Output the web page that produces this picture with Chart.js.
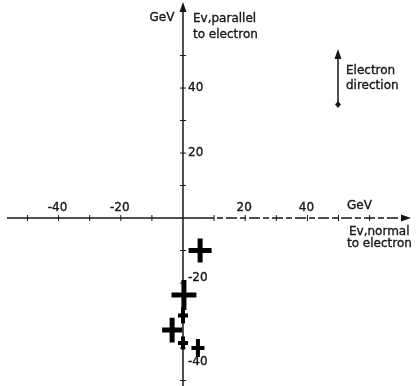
<!DOCTYPE html>
<html>
<head>
<meta charset="utf-8">
<script src="https://cdn.jsdelivr.net/npm/chart.js@4/dist/chart.umd.min.js"></script>
<style>
  html, body { margin: 0; padding: 0; background: #fff; }
  #wrap { width: 418px; height: 386px; }
</style>
</head>
<body>
<div id="wrap"><canvas id="chart"></canvas></div>
<script>
// event energies, GeV: normal and parallel to the electron
var eNormal = [5.5, 0.3, 0, -3.5, 0, 4.8];
var eParallel = [-10, -23.7, -30, -34.5, -38.5, -40];
// half sizes of the error crosses, GeV
var errNormal = [3.7, 4.0, 1.6, 3.2, 1.6, 2.1];
var errParallel = [3.7, 4.6, 2.5, 3.8, 2.0, 2.8];

var xTicks = [-50, -40, -30, -20, -10, 10, 20, 30, 40, 50, 60];
var yTicks = [-50, -40, -30, -20, -10, 10, 20, 30, 40, 50];
var xLabels = [-40, -20, 20, 40];
var yLabels = [40, 20, -20, -40];

var INK = '#161616';
var FONT = '12px "DejaVu Sans"';

var points = eNormal.map(function (x, i) { return { x: x, y: eParallel[i] }; });

function arrowHead(ctx, x, y, dir) {
  // dir: 'up' or 'right'
  ctx.beginPath();
  if (dir === 'up') {
    ctx.moveTo(x, y);
    ctx.lineTo(x - 3.5, y + 10);
    ctx.lineTo(x + 3.5, y + 10);
  } else {
    ctx.moveTo(x, y);
    ctx.lineTo(x - 10, y - 3.5);
    ctx.lineTo(x - 10, y + 3.5);
  }
  ctx.closePath();
  ctx.fill();
}

// lettering is a little heavier than a plain fill
function letter(ctx, txt, x, y) {
  ctx.fillText(txt, x, y);
  ctx.strokeText(txt, x, y);
}

var axesPlugin = {
  id: 'crossAxes',
  beforeDatasetsDraw(chart) {
    var ctx = chart.ctx;
    var xs = chart.scales.x, ys = chart.scales.y;
    var x0 = xs.getPixelForValue(0), y0 = ys.getPixelForValue(0);
    var w = chart.width;

    ctx.save();
    ctx.strokeStyle = INK;
    ctx.fillStyle = INK;
    ctx.lineWidth = 1.5;

    // horizontal axis, the right half is a bit broken up
    ctx.beginPath();
    ctx.moveTo(7, y0);
    ctx.lineTo(x0 + 20, y0);
    ctx.stroke();
    ctx.setLineDash([11, 3, 6, 3]);
    ctx.beginPath();
    ctx.moveTo(x0 + 20, y0);
    ctx.lineTo(w - 12, y0);
    ctx.stroke();
    ctx.setLineDash([]);
    arrowHead(ctx, w - 7, y0, 'right');

    // vertical axis
    ctx.beginPath();
    ctx.moveTo(x0, 10);
    ctx.lineTo(x0, chart.height);
    ctx.stroke();
    arrowHead(ctx, x0, 2, 'up');

    // tick marks
    ctx.lineWidth = 1;
    xTicks.forEach(function (v) {
      var px = xs.getPixelForValue(v);
      ctx.beginPath();
      ctx.moveTo(px, y0 - 3);
      ctx.lineTo(px, y0 + 3);
      ctx.stroke();
    });
    yTicks.forEach(function (v) {
      var py = ys.getPixelForValue(v);
      ctx.beginPath();
      ctx.moveTo(x0 - 3, py);
      ctx.lineTo(x0 + 3, py);
      ctx.stroke();
    });

    // tick labels
    ctx.font = FONT;
    ctx.lineWidth = 0.35;
    ctx.textBaseline = 'middle';
    ctx.textAlign = 'center';
    xLabels.forEach(function (v) {
      letter(ctx, String(v), xs.getPixelForValue(v) - 1, y0 - 10);
    });
    ctx.textAlign = 'left';
    yLabels.forEach(function (v) {
      // negative labels sit clear of the crosses
      var nudge = v === -40 ? 14 : (v < 0 ? -5 : 0);
      letter(ctx, String(v), x0 + 5, ys.getPixelForValue(v) + nudge);
    });

    // axis titles
    ctx.textAlign = 'center';
    letter(ctx, 'GeV', x0 - 21, 18);
    ctx.textAlign = 'left';
    letter(ctx, 'Ev,parallel', x0 + 10, 19);
    letter(ctx, 'to electron', x0 + 10, 35);
    letter(ctx, 'GeV', 347, y0 - 12);
    letter(ctx, 'Ev,normal', 349, y0 + 14);
    letter(ctx, 'to electron', 347, y0 + 26);

    // electron direction arrow
    ctx.lineWidth = 1.5;
    ctx.beginPath();
    ctx.moveTo(338, 56);
    ctx.lineTo(338, 104);
    ctx.stroke();
    arrowHead(ctx, 338, 49, 'up');
    ctx.beginPath();
    ctx.moveTo(338, 101);
    ctx.lineTo(341, 104.5);
    ctx.lineTo(338, 108);
    ctx.lineTo(335, 104.5);
    ctx.closePath();
    ctx.fill();
    ctx.lineWidth = 0.35;
    letter(ctx, 'Electron', 346, 71);
    letter(ctx, 'direction', 346, 86);
    ctx.restore();
  },
  afterDatasetsDraw(chart) {
    // error crosses around each event
    var ctx = chart.ctx;
    var xs = chart.scales.x, ys = chart.scales.y;
    ctx.save();
    ctx.strokeStyle = '#000';
    ctx.lineCap = 'butt';
    points.forEach(function (p, i) {
      var big = errNormal[i] > 3;
      ctx.lineWidth = big ? 5 : 4;
      ctx.beginPath();
      ctx.moveTo(xs.getPixelForValue(p.x - errNormal[i]), ys.getPixelForValue(p.y));
      ctx.lineTo(xs.getPixelForValue(p.x + errNormal[i]), ys.getPixelForValue(p.y));
      ctx.moveTo(xs.getPixelForValue(p.x), ys.getPixelForValue(p.y - errParallel[i]));
      ctx.lineTo(xs.getPixelForValue(p.x), ys.getPixelForValue(p.y + errParallel[i]));
      ctx.stroke();
    });
    ctx.restore();
  }
};

new Chart(document.getElementById('chart'), {
  type: 'scatter',
  data: {
    datasets: [{
      data: points,
      pointRadius: 0,
      pointHoverRadius: 0
    }]
  },
  options: {
    responsive: true,
    maintainAspectRatio: false,
    animation: false,
    layout: { padding: 0 },
    plugins: {
      legend: { display: false },
      tooltip: { enabled: false }
    },
    scales: {
      x: { type: 'linear', display: false, min: -58.84, max: 75.56 },
      y: { type: 'linear', display: false, min: -51.7, max: 67.1 }
    }
  },
  plugins: [axesPlugin]
});
</script>
</body>
</html>
